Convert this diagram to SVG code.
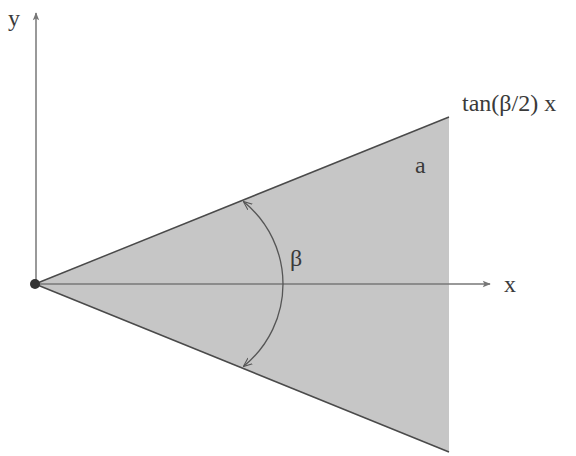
<svg xmlns="http://www.w3.org/2000/svg" width="576" height="456" viewBox="0 0 576 456">
<style>
.t{font-family:"Liberation Serif","Times New Roman",serif;font-size:24px;fill:#3a3a3a}
.ax{stroke:#777;stroke-width:1.5;fill:none}
.ed{stroke:#4a4a4a;stroke-width:1.5;fill:none}
</style>
<defs>
<marker id="ah" viewBox="0 0 10 10" refX="9" refY="5" markerWidth="10" markerHeight="8" markerUnits="userSpaceOnUse" orient="auto">
<path d="M0,1 L10,5 L0,9 L2,5 Z" fill="#777"/>
</marker>
<marker id="arc" viewBox="0 0 10 10" refX="9" refY="5" markerWidth="9" markerHeight="9" markerUnits="userSpaceOnUse" orient="auto">
<path d="M0,1 L10,5 L0,9" fill="none" stroke="#555" stroke-width="1.2"/>
</marker>
</defs>
<g id="region">
<polygon points="35,284 449,117 449,452" fill="#c6c6c6"/>
<line class="ed" x1="35" y1="284" x2="449" y2="117"/>
<line class="ed" x1="35" y1="284" x2="449" y2="452"/>
</g>
<g id="connectors">
<line class="ax" x1="36" y1="284" x2="36" y2="13" marker-end="url(#ah)"/>
<line class="ax" x1="35" y1="284" x2="490" y2="284" marker-end="url(#ah)"/>
<path d="M 283,284 A 106,106 0 0 0 244,202" stroke="#555" stroke-width="1.3" fill="none" marker-end="url(#arc)"/>
<path d="M 283,284 A 106,106 0 0 1 244,366" stroke="#555" stroke-width="1.3" fill="none" marker-end="url(#arc)"/>
</g>
<g id="origin"><circle cx="35" cy="284" r="5" fill="#333"/></g>
<g id="labels">
<text class="t" x="8" y="26">y</text>
<text class="t" x="504" y="292">x</text>
<text class="t" x="290" y="266">β</text>
<text class="t" x="415" y="173">a</text>
<text class="t" x="462" y="111">tan(β/2) x</text>
</g>
</svg>
